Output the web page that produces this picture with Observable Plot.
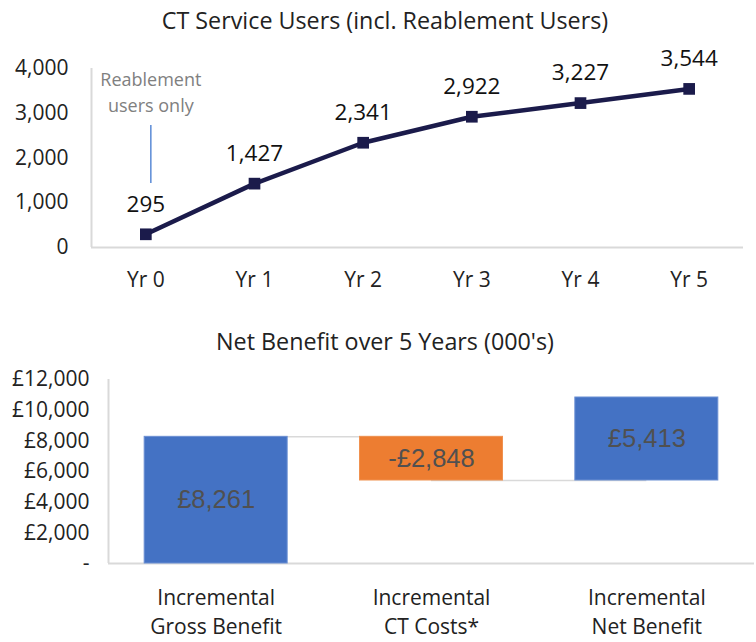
<!DOCTYPE html>
<html><head><meta charset="utf-8">
<script src="https://cdn.jsdelivr.net/npm/d3@7"></script>
<script src="https://cdn.jsdelivr.net/npm/@observablehq/plot@0.6"></script>
<style>
body{margin:0;background:#fff;width:756px;height:642px;position:relative;overflow:hidden;font-family:"Open Sans",sans-serif;}
.title{position:absolute;left:0;width:756px;text-align:center;color:#222;font-size:23.3px;line-height:28px;white-space:nowrap;}
#top{position:absolute;left:0;top:0}
#bottom{position:absolute;left:0;top:360px}
</style></head><body>
<div id="top"></div>
<div id="bottom"></div>
<div class="title" style="top:6px;left:7px">CT Service Users (incl. Reablement Users)</div>
<div class="title" style="top:327px;left:7px">Net Benefit over 5 Years (000's)</div>
<script>
// ---- Top chart data ----
const years = ["Yr 0", "Yr 1", "Yr 2", "Yr 3", "Yr 4", "Yr 5"];
const users = [295, 1427, 2341, 2922, 3227, 3544];
const userTicks = [0, 1000, 2000, 3000, 4000];
const noteText = "Reablement\nusers only";
const noteCenter = 3497;       // value-level of the note's centre
const noteRule = [1430, 2726]; // value-levels of the note's leader line

// ---- Bottom chart data ----
const categories = ["Incremental\nGross Benefit", "Incremental\nCT Costs*", "Incremental\nNet Benefit"];
const amounts = [8261, -2848, 5413];
const moneyTicks = [0, 2000, 4000, 6000, 8000, 10000, 12000];

const fmt = d3.format(",");
const FONT = "'Open Sans', sans-serif";

// ---- Top: line chart ----
const userData = users.map((v, i) => ({i, year: years[i], v}));
const xDom = [-0.5, years.length - 0.5];
const topPlot = Plot.plot({
  width: 756, height: 300,
  marginLeft: 91, marginRight: 13, marginTop: 68, marginBottom: 53,
  style: {fontFamily: FONT, fontSize: "21px", color: "#222", background: "white"},
  x: {domain: xDom, ticks: d3.range(years.length), tickFormat: i => years[i], tickSize: 0, tickPadding: 25, label: null},
  y: {domain: [0, 4000], ticks: userTicks, tickFormat: fmt, tickSize: 0, tickPadding: 23, label: null},
  marks: [
    Plot.ruleY([0], {stroke: "#d9d9d9", strokeWidth: 2}),
    Plot.ruleX([xDom[0]], {y1: 0, y2: 4000, stroke: "#d9d9d9", strokeWidth: 2}),
    Plot.ruleX([0], {y1: noteRule[0], y2: noteRule[1], dx: 5, stroke: "#5b8bd6", strokeWidth: 1.5}),
    Plot.text([0], {x: d => d, y: noteCenter, dx: 5, text: () => noteText, lineHeight: 1.4, fontSize: 18, fill: "#808080"}),
    Plot.line(userData, {x: "i", y: "v", stroke: "#1b1b4b", strokeWidth: 4.5}),
    Plot.dot(userData, {x: "i", y: "v", symbol: "square", r: 6.6, fill: "#1b1b4b"}),
    Plot.text(userData, {x: "i", y: "v", text: d => fmt(d.v), dy: -30, fontSize: 22.5, fill: "#111"})
  ]
});
document.getElementById("top").appendChild(topPlot);

// ---- Bottom: waterfall ----
let run = 0;
const steps = amounts.map((v, i) => {
  const start = run; const end = start + v; run = end;
  return {i, cat: categories[i], v, start, end};
});
const half = 0.332;
const money = d => (d < 0 ? "-£" : "£") + fmt(Math.abs(d));
const xDom2 = [-0.5, categories.length - 0.5];
const bottomPlot = Plot.plot({
  width: 756, height: 282,
  marginLeft: 108, marginRight: 2, marginTop: 19, marginBottom: 79,
  style: {fontFamily: FONT, fontSize: "21px", color: "#222", background: "white"},
  x: {domain: xDom2, label: null, axis: null},
  y: {domain: [0, 12000], label: null, axis: null},
  marks: [
    Plot.axisY({ticks: moneyTicks, tickFormat: d => d === 0 ? "-" : "£" + fmt(d), tickSize: 0, tickPadding: 19, label: null}),
    Plot.axisX({ticks: d3.range(categories.length), tickFormat: i => categories[i], tickSize: 0, tickPadding: 21, lineHeight: 1.38, label: null}),
    Plot.ruleY([0], {stroke: "#d9d9d9", strokeWidth: 2}),
    Plot.ruleX([xDom2[0]], {y1: 0, y2: 12000, stroke: "#d9d9d9", strokeWidth: 2}),
    Plot.ruleY(steps.slice(0, -1), {y: "end", x1: "i", x2: d => d.i + 1, stroke: "#d9d9d9", strokeWidth: 1.5}),
    Plot.rectY(steps, {x1: d => d.i - half, x2: d => d.i + half, y1: "start", y2: "end",
      fill: d => d.v < 0 ? "#ed7d31" : "#4472c4", stroke: d => d.v < 0 ? "#f0914f" : "#6b8fd3", strokeWidth: 1}),
    Plot.text(steps, {x: "i", y: d => (d.start + d.end) / 2, text: d => money(d.v),
      fontFamily: "'Liberation Sans', Arial, sans-serif", fontSize: 25.5, fill: "#505050"})
  ]
});
document.getElementById("bottom").appendChild(bottomPlot);
</script>
</body></html>
